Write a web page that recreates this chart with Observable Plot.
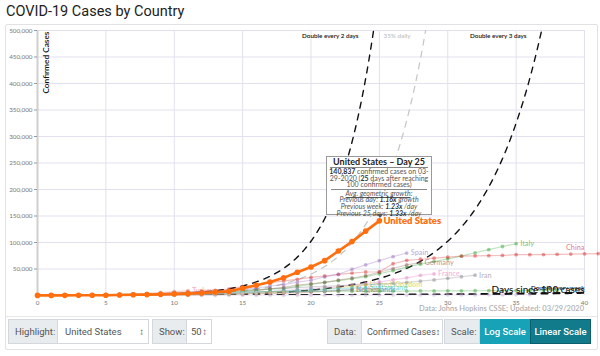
<!DOCTYPE html>
<html><head><meta charset="utf-8">
<script src="https://cdn.jsdelivr.net/npm/d3@7"></script>
<script src="https://cdn.jsdelivr.net/npm/@observablehq/plot@0.6"></script>
<style>
html,body{margin:0;padding:0}
body{width:600px;height:356px;position:relative;overflow:hidden;background:#fff;font-family:"Open Sans",Lato,sans-serif}
#title{position:absolute;left:6px;top:3px;font-family:Roboto,sans-serif;font-size:14.5px;color:#222;white-space:nowrap}
#panel{position:absolute;left:5px;top:24px;width:591px;height:324px;border:1px solid #e2e2e2;border-radius:2px}
#sep{position:absolute;left:5px;top:316px;width:592px;height:1px;background:#e6e6e6}
#chart{position:absolute;left:0;top:22px;z-index:1}
#source{position:absolute;right:16px;top:304px;font-size:7.5px;color:#b0b0b0;font-weight:600;font-family:Lato,sans-serif;white-space:nowrap;z-index:2}
#tip{position:absolute;z-index:5;left:326px;top:156px;width:106px;height:59px;border:1px solid #999;background:#fff;box-sizing:border-box;font-family:Lato,sans-serif;color:#555;text-align:center;font-size:7px;line-height:6.6px;padding:0 1px}
#tip div{white-space:nowrap}
#tip .t{font-weight:700;font-size:9px;line-height:10px;color:#222;border-bottom:1px solid #888;margin:0 2px 0}
#tip .sep{border-top:1px solid #888;margin:1px 3px 0;height:0}
#tip i{font-style:italic}
#tip b{color:#333}
#tip u{text-decoration:underline}
#tip:after{content:"";position:absolute;left:50px;bottom:-4px;border-left:3px solid transparent;border-right:3px solid transparent;border-top:4px solid #555}
.ctl{position:absolute;top:319px;height:25px;display:flex;font-family:Roboto,sans-serif;font-size:9.5px;white-space:nowrap}
.lab{background:#e9ecef;border:1px solid #d4d8dc;color:#555;display:flex;align-items:center;padding:0 6px;box-sizing:border-box;height:25px}
.sel{background:#fff;border:1px solid #d4d8dc;border-left:none;color:#555;display:flex;align-items:center;justify-content:space-between;padding:0 4px 0 7px;box-sizing:border-box;height:25px}
.btn{color:#fff;display:flex;align-items:center;justify-content:center;box-sizing:border-box;height:25px;font-weight:500}
</style></head>
<body>
<div id="title">COVID-19 Cases by Country</div>
<div id="panel"></div>
<div id="sep"></div>
<div id="chart"></div>
<div id="source">Data: Johns Hopkins CSSE; Updated: 03/29/2020</div>
<div id="tip">
  <div class="t">United States – Day 25</div>
  <div><b>140,837</b> confirmed cases on 03-</div>
  <div>29-2020 (<b>25</b> days after reaching</div>
  <div>100 confirmed cases)</div>
  <div class="sep"></div>
  <div><i><u>Avg. geometric growth</u>:</i></div>
  <div><i>Previous day: <b>1.16x</b> growth</i></div>
  <div><i>Previous week: <b>1.23x</b> /day</i></div>
  <div><i>Previous 25 days: <b>1.33x</b> /day</i></div>
</div>
<div class="ctl" style="left:8px">
  <div class="lab" style="width:50px">Highlight:</div>
  <div class="sel" style="width:91px">United States <span>&#x2195;</span></div>
</div>
<div class="ctl" style="left:152px">
  <div class="lab" style="width:35px">Show:</div>
  <div class="sel" style="width:25px;padding-left:4px">50 <span>&#x2195;</span></div>
</div>
<div class="ctl" style="left:327px">
  <div class="lab" style="width:35px">Data:</div>
  <div class="sel" style="width:81px;padding-left:5px;font-size:9px">Confirmed Cases <span>&#x2195;</span></div>
</div>
<div class="ctl" style="left:444px">
  <div class="lab" style="width:36px">Scale:</div>
  <div class="btn" style="width:50px;background:#17a2b8">Log Scale</div>
  <div class="btn" style="width:61px;background:#117a8b;border:1px solid #0d5f6d">Linear Scale</div>
</div>
<script>
// ---- data: cumulative confirmed cases, day 0 = first day with >= 100 cases ----
const usCases = [149,217,262,402,518,583,959,1281,1663,2179,2727,3499,4632,6421,7783,13747,19273,25600,33276,43847,53740,65778,83836,101657,121478,140837];
const italyCases = [155,229,322,453,655,888,1128,1694,2036,2502,3089,3858,4636,5883,7375,9172,10149,12462,12462,17660,21157,24747,27980,31506,35713,41035,47021,53578,59138,63927,69176,74386,80589,86498,92472,97689];
const chinaCases = [121,198,291,440,548,643,920,1406,2075,2877,5509,6087,8141,9802,11891,16630,19716,23707,27440,30587,34110,36814,39829,42354,44386,44759,59895,66358,68413,70513,72434,74211,74619,75077,75550,77001,77022,77241,77754,78166,78600,78928];
const spainCases = [120,165,222,259,400,500,673,1073,1695,2277,2277,5232,6391,7798,9942,11748,13910,17963,20410,25374,28768,35136,39885,49515,57786,65719,73235,80110];
const germanyCases = [130,159,196,262,482,670,799,1040,1176,1457,1908,2078,3675,4585,5795,7272,9257,12327,15320,19848,22213,24873,29056,32986,37323,43938,50871,57695,62095];
const franceCases = [100,130,191,204,288,380,656,959,1136,1219,1794,2293,2293,3681,4496,4532,6683,7715,9124,10970,12758,14463,16243,20123,22622,25600,29551,33402,38105,40708];
const iranCases = [139,245,388,593,978,1501,2336,2922,3513,4747,5823,6566,7161,8042,9000,10075,11364,12729,13938,14991,16169,17361,18407,19644,20610,21638,23049,24811,27017,29406,32332,35408,38309];
const ukCases = [116,164,207,274,322,384,459,459,802,1144,1145,1551,1960,2642,2716,4014,5067,5745,6726,8164,9640,11812,14745,17312,19780];
const swissCases = [114,214,268,337,374,491,652,652,1139,1359,2200,2200,2700,3028,4075,5294,6575,7474,8795,9877,10897,11811,12928,14076,14829];
const koreaCases = [104,204,433,602,833,977,1261,1766,2337,3150,3736,4335,5186,5621,6088,6593,7041,7314,7478,7513,7755,7869,7979,8086,8162,8236,8320,8413,8565,8652,8799,8897,8961,9037,9137,9241,9332,9478,9583];
const netherlandsCases = [128,188,265,321,382,503,503,806,962,1138,1416,1711,2058,2467,3003,3640,4216,4764,5580,6438,7468,8647,9819,10930];
const belgiumCases = [109,169,200,239,267,314,314,559,689,886,1058,1243,1486,1795,2257,2815,3401,3743,4269,4937,6235,7284,9134,10836];
const austriaCases = [104,131,182,246,302,504,655,860,1018,1332,1646,2013,2388,2814,3582,4474,5283,5588,6909,7657,8271,8788];
const turkeyCases = [191,359,670,947,1236,1529,1872,2433,3629,5698,7402,9217];
const japanCases = [105,144,144,170,189,214,228,241,256,274,293,331,360,420,461,502,511,581,639,639,701,773,839,825,878,889,924,963,1007,1086,1086,1089,1128,1193,1307,1387,1524];
const canadaCases = [108,117,193,198,252,415,478,657,800,943,1277,1469,2088,2790,3251,4042,4682,5576,6280];
const portugalCases = [112,169,245,331,448,448,785,1020,1280,1600,2060,2362,3544,4268,5170,5962,6408];

const countryNames = ["United States","Italy","China","Spain","Germany","France","Iran","United Kingdom","Switzerland","Korea, South","Netherlands","Belgium","Austria","Turkey","Japan","Canada","Portugal"];
const countryValues = [usCases,italyCases,chinaCases,spainCases,germanyCases,franceCases,iranCases,ukCases,swissCases,koreaCases,netherlandsCases,belgiumCases,austriaCases,turkeyCases,japanCases,canadaCases,portugalCases];
const countryColors = ["#ff6f0f","#2ca02c","#d62728","#9467bd","#8c564b","#e377c2","#7f7f7f","#bcbd22","#17becf","#2ca02c","#1f77b4","#c07a3a","#aec7e8","#f07070","#c5b0d5","#ffbb78","#9edae5"];
const labelled = ["Italy","China","Spain","Germany","France","Iran","United Kingdom","Switzerland","Netherlands","Belgium","Turkey"];

const xTicks = [0,5,10,15,20,25,30,35,40];
const yTicks = [50000,100000,150000,200000,250000,300000,350000,400000,450000,500000];

// reference growth curves starting at 100 cases
const refNames = ["Double every 2 days","35% daily","Double every 3 days","Double every week"];
const refFactors = [Math.pow(2,1/2), 1.35, Math.pow(2,1/3), Math.pow(2,1/7)];
const refColors = ["#111","#c4c4c4","#111","#111"];
const refWidths = [1.4,1.2,1.4,2.2];

const highlight = "United States";

const rows = [];
countryNames.forEach((name,i) => countryValues[i].forEach((v,d) => rows.push({country:name, day:d, cases:v, color:countryColors[i]})));
const others = rows.filter(r => r.country !== highlight);
const hi = rows.filter(r => r.country === highlight);
const lastPoints = countryNames.map((name,i) => {
  const vals = countryValues[i];
  const d = Math.min(vals.length - 1, 40);
  return {country:name, day:d, cases:vals[d], color:countryColors[i]};
});
const otherLabels = lastPoints.filter(p => labelled.includes(p.country) && p.country !== "China");
const chinaLabel = lastPoints.filter(p => p.country === "China");
const hiLabel = lastPoints.filter(p => p.country === highlight);

const refRows = [];
refNames.forEach((name,i) => {
  for (let d = 0; d <= 40.01; d += 0.1) {
    const v = 100*Math.pow(refFactors[i], d);
    refRows.push({ref:name, day:d, cases:v});
    if (v > 520000) break;
  }
});
const topRefLabels = refNames.slice(0,3).map((name,i) => ({ref:name, day:Math.log(5000)/Math.log(refFactors[i]), cases:500000, color:refColors[i]}));
const weekLabel = [{ref:refNames[3], day:40, cases:100*Math.pow(refFactors[3],40), color:"#111"}];

const fmt = d3.format(",");
const chart = Plot.plot({
  width:600, height:290,
  marginTop:8, marginBottom:17, marginLeft:37, marginRight:16,
  style:{fontFamily:"Lato, sans-serif", fontSize:"6.5px", color:"#777", background:"transparent", overflow:"visible"},
  x:{domain:[0,40], label:null},
  y:{domain:[0,500000], label:null},
  marks:[
    Plot.gridX(xTicks, {stroke:"#e4dfef", strokeOpacity:1}),
    Plot.gridY(yTicks, {stroke:"#e4dfef", strokeOpacity:1}),
    Plot.ruleX([0], {stroke:"#cfcfcf", strokeWidth:2}),
    Plot.axisY(yTicks, {tickFormat:fmt, tickSize:3, tickPadding:2, fill:"#777", stroke:"#999", fontSize:6.3}),
    Plot.axisX(xTicks, {tickSize:0, tickPadding:5, fill:"#777", fontSize:6.3}),
    Plot.line(refRows, {x:"day", y:"cases", z:"ref", stroke:d => refColors[refNames.indexOf(d.ref)], strokeWidth:d => refWidths[refNames.indexOf(d.ref)], strokeDasharray:"6,6", clip:true}),
    Plot.line(others, {x:"day", y:"cases", z:"country", stroke:"color", strokeOpacity:0.3, strokeWidth:1.2}),
    Plot.dot(others, {x:"day", y:"cases", fill:"color", fillOpacity:0.45, r:1.9}),
    Plot.text(otherLabels, {x:"day", y:"cases", text:"country", fill:"color", fillOpacity:0.55, textAnchor:"start", dx:4, fontSize:7.3, fontWeight:600}),
    Plot.text(chinaLabel, {x:"day", y:"cases", text:"country", fill:"color", fillOpacity:0.55, textAnchor:"end", dy:-6, fontSize:7.3, fontWeight:600}),
    Plot.text(topRefLabels, {x:"day", y:"cases", text:"ref", fill:"color", textAnchor:"end", dx:-15, dy:5, fontSize:6.3, fontWeight:600}),
    Plot.text(weekLabel, {x:"day", y:"cases", text:"ref", fill:"color", textAnchor:"end", dy:-5, fontSize:6.3, fontWeight:600}),
    Plot.line(hi, {x:"day", y:"cases", stroke:"color", strokeWidth:2.6}),
    Plot.dot(hi, {x:"day", y:"cases", fill:"color", r:2.8}),
    Plot.text(hiLabel, {x:"day", y:"cases", text:"country", fill:"color", textAnchor:"start", dx:4, fontSize:9.5, fontWeight:800}),
    Plot.text(["Confirmed Cases"], {frameAnchor:"top-left", rotate:-90, textAnchor:"end", dx:6, dy:1, fill:"#111", fontSize:8.3, fontWeight:600}),
    Plot.text(["Days since 100 cases"], {frameAnchor:"bottom-right", textAnchor:"end", dx:0, dy:-3, fill:"#111", fontSize:10, fontWeight:500})
  ]
});
document.getElementById("chart").appendChild(chart);
</script>
</body></html>
